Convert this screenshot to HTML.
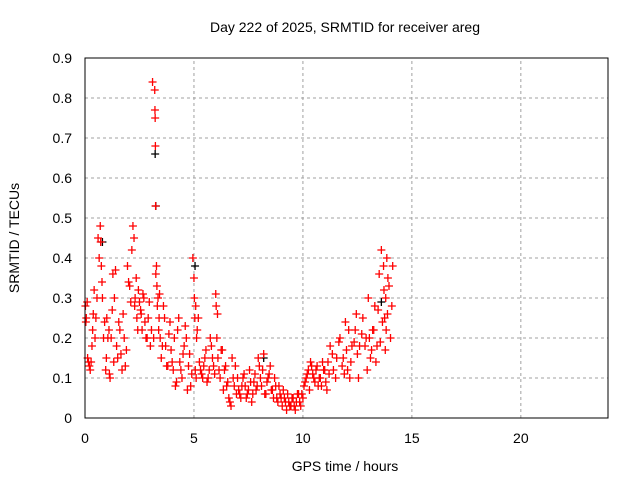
<!DOCTYPE html>
<html><head><meta charset="utf-8"><style>
body{margin:0;background:#fff;}
svg{display:block;font-family:"Liberation Sans",sans-serif;}
</style></head><body>
<svg id="chart" width="640" height="480" viewBox="0 0 640 480">
<rect width="640" height="480" fill="#fff"/>
<text x="345" y="32" font-size="14" text-anchor="middle">Day 222 of 2025, SRMTID for receiver areg</text>
<g id="grid"></g>
<g id="axes"></g>
<g id="marks"></g>
<rect x="85" y="58" width="523" height="360" fill="none" stroke="#000" stroke-width="1"/>
<text x="345" y="471" font-size="14" text-anchor="middle">GPS time / hours</text>
<text transform="translate(19,238) rotate(-90)" font-size="14" text-anchor="middle">SRMTID / TECUs</text>
</svg>
<script>
const xTicks=[0,5,10,15,20];
const yTicks=[0,0.1,0.2,0.3,0.4,0.5,0.6,0.7,0.8,0.9];
const yTickLabels=["0","0.1","0.2","0.3","0.4","0.5","0.6","0.7","0.8","0.9"];
const times=[0.02,0.06,0.12,0.2,0.28,0.35,0.42,0.5,0.6,0.7,0.75,0.8,0.85,0.95,1.0,1.1,1.15,1.2,1.28,1.35,1.45,1.5,1.6,1.7,1.8,1.9,1.95,2.05,2.1,2.2,2.25,2.3,2.38,2.45,2.55,2.62,2.7,2.8,2.9,3.0,3.1,3.2,3.21,3.22,3.23,3.24,3.25,3.3,3.35,3.4,3.45,3.5,3.6,3.7,3.8,3.9,3.95,4.05,4.15,4.25,4.35,4.45,4.55,4.65,4.75,4.85,4.95,5.0,5.02,5.04,5.06,5.1,5.15,5.2,5.3,5.4,5.5,5.6,5.7,5.8,5.9,6.0,6.02,6.05,6.1,6.2,6.3,6.4,6.5,6.6,6.7,6.8,6.9,6.95,7.05,7.15,7.25,7.35,7.45,7.55,7.65,7.75,7.85,7.95,8.05,8.15,8.25,8.35,8.45,8.55,8.65,8.75,8.85,8.95,9.05,9.15,9.25,9.35,9.45,9.55,9.65,9.75,9.85,9.95,10.05,10.15,10.25,10.35,10.45,10.55,10.65,10.75,10.85,10.95,11.05,11.15,11.25,11.4,11.55,11.7,11.85,11.95,12.05,12.15,12.25,12.4,12.5,12.6,12.75,12.9,13.0,13.1,13.2,13.3,13.4,13.5,13.6,13.7,13.75,13.8,13.85,13.9,14.0,14.05,14.1,14.15];
const values=[0.28,0.25,0.15,0.13,0.14,0.22,0.32,0.25,0.45,0.48,0.38,0.3,0.2,0.12,0.25,0.22,0.1,0.2,0.36,0.3,0.18,0.15,0.22,0.12,0.2,0.17,0.38,0.33,0.29,0.48,0.45,0.3,0.25,0.32,0.27,0.22,0.3,0.2,0.25,0.18,0.84,0.82,0.77,0.75,0.68,0.53,0.36,0.33,0.3,0.25,0.2,0.15,0.28,0.18,0.13,0.24,0.17,0.12,0.08,0.22,0.14,0.1,0.18,0.2,0.13,0.08,0.4,0.35,0.3,0.25,0.12,0.1,0.22,0.25,0.12,0.1,0.15,0.09,0.12,0.18,0.13,0.31,0.28,0.2,0.15,0.1,0.17,0.12,0.08,0.05,0.03,0.1,0.13,0.06,0.07,0.05,0.1,0.08,0.06,0.12,0.04,0.09,0.07,0.15,0.1,0.12,0.06,0.09,0.11,0.07,0.05,0.08,0.04,0.06,0.03,0.05,0.02,0.04,0.03,0.05,0.02,0.06,0.04,0.06,0.08,0.1,0.12,0.14,0.11,0.09,0.13,0.1,0.08,0.12,0.09,0.14,0.18,0.12,0.15,0.2,0.15,0.24,0.12,0.1,0.18,0.22,0.16,0.18,0.25,0.2,0.3,0.15,0.22,0.28,0.18,0.36,0.42,0.38,0.25,0.3,0.4,0.35];
const times2=[0.04,0.1,0.16,0.24,0.32,0.38,0.46,0.55,0.65,0.72,0.78,0.9,0.98,1.05,1.12,1.25,1.32,1.4,1.55,1.65,1.75,1.85,2.0,2.15,2.28,2.35,2.42,2.5,2.58,2.66,2.75,2.85,2.95,3.05,3.15,3.28,3.32,3.38,3.42,3.55,3.65,3.75,3.85,4.0,4.1,4.2,4.3,4.4,4.5,4.6,4.7,4.8,4.9,5.08,5.12,5.25,5.35,5.45,5.55,5.65,5.75,5.85,5.95,6.08,6.15,6.25,6.35,6.45,6.55,6.65,6.75,6.85,7.0,7.1,7.2,7.3,7.4,7.5,7.6,7.7,7.8,7.9,8.0,8.1,8.2,8.3,8.4,8.5,8.6,8.7,8.8,8.9,9.0,9.1,9.2,9.3,9.4,9.5,9.6,9.7,9.8,9.9,10.0,10.1,10.2,10.3,10.4,10.5,10.6,10.7,10.8,10.9,11.0,11.1,11.2,11.35,11.5,11.65,11.8,11.9,12.0,12.1,12.2,12.35,12.45,12.55,12.7,12.85,12.95,13.05,13.15,13.25,13.35,13.45,13.55,13.65,13.72,13.78,13.82,13.88,13.95,14.02,14.08,14.12];
const values2=[0.24,0.29,0.14,0.12,0.18,0.26,0.2,0.3,0.4,0.44,0.34,0.24,0.15,0.2,0.11,0.27,0.14,0.37,0.24,0.16,0.26,0.13,0.34,0.42,0.28,0.35,0.22,0.29,0.26,0.31,0.24,0.2,0.29,0.22,0.2,0.38,0.28,0.22,0.31,0.18,0.25,0.13,0.21,0.14,0.2,0.09,0.25,0.12,0.16,0.23,0.07,0.16,0.11,0.28,0.2,0.14,0.11,0.13,0.17,0.1,0.2,0.15,0.11,0.26,0.12,0.17,0.07,0.13,0.09,0.04,0.15,0.08,0.1,0.06,0.08,0.11,0.05,0.07,0.09,0.06,0.11,0.08,0.13,0.08,0.16,0.06,0.1,0.13,0.07,0.1,0.05,0.08,0.05,0.07,0.04,0.06,0.03,0.05,0.03,0.04,0.06,0.03,0.05,0.09,0.11,0.07,0.13,0.1,0.12,0.08,0.1,0.14,0.12,0.07,0.11,0.16,0.1,0.19,0.13,0.11,0.17,0.22,0.14,0.19,0.26,0.1,0.21,0.18,0.12,0.2,0.17,0.22,0.14,0.27,0.19,0.24,0.32,0.17,0.22,0.26,0.33,0.2,0.28,0.38,0.31,0.37];
const blackTimes=[0.8,3.22,3.25,5.05,8.2,13.6];
const blackValues=[0.44,0.66,0.53,0.38,0.15,0.29];
const X0=85,X1=608,Y0=418,Y1=58,XMAX=24,YMAX=0.9;
const xs=v=>X0+(X1-X0)*v/XMAX;
const ys=v=>Y0-(Y0-Y1)*v/YMAX;
const NS="http://www.w3.org/2000/svg";
const grid=document.getElementById('grid'),axes=document.getElementById('axes'),marks=document.getElementById('marks');
function mk(t,a,p){const e=document.createElementNS(NS,t);for(const k in a)e.setAttribute(k,a[k]);p.appendChild(e);return e;}
xTicks.forEach(t=>{
  const x=xs(t);
  if(t>0){const g=mk('line',{x1:x,x2:x,y1:Y0,y2:Y1,stroke:'#a0a0a0','stroke-dasharray':'3,3'},grid);
  
  }
  const l=mk('text',{x:x,y:Y0+25,'font-size':14,'text-anchor':'middle'},axes);l.textContent=t;
  
  
});
yTicks.forEach((t,i)=>{
  const y=ys(t);
  if(t>0&&t<YMAX){const g=mk('line',{x1:X0,x2:X1,y1:y,y2:y,stroke:'#a0a0a0','stroke-dasharray':'3,3'},grid);
  
  }
  const l=mk('text',{x:X0-13,y:y+5,'font-size':14,'text-anchor':'end'},axes);l.textContent=yTickLabels[i];
  
  
});
function plus(x,y,c){
  const p=mk('path',{d:`M${x-4},${y}h8M${x},${y-4}v8`,stroke:c,'stroke-width':1.3,fill:'none'},marks);
  
  
}
blackTimes.forEach((t,i)=>plus(xs(t),ys(blackValues[i]),'#000'));
times.forEach((t,i)=>plus(xs(t),ys(values[i]),'#f00'));
times2.forEach((t,i)=>plus(xs(t),ys(values2[i]),'#f00'));
</script>
</body></html>
